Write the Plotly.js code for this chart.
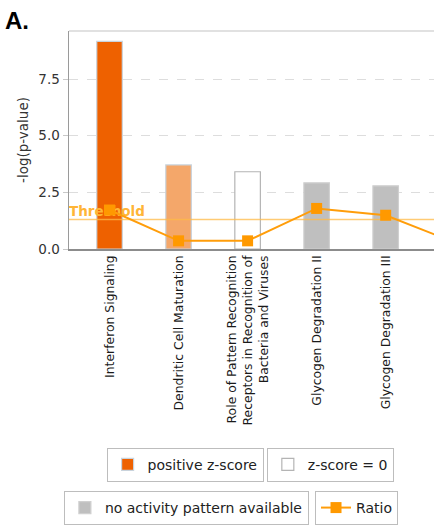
<!DOCTYPE html>
<html>
<head>
<meta charset="utf-8">
<script src="https://cdn.plot.ly/plotly-3.0.1.min.js"></script>
<style>html,body{margin:0;padding:0;background:#fff;}#chart{width:434px;height:526px;}</style>
</head>
<body>
<div id="chart"></div>
<script>
// ---- data ----
var categories = [
  'Interferon Signaling',
  'Dendritic Cell Maturation',
  'Role of Pattern Recognition<br>Receptors in Recognition of<br>Bacteria and Viruses',
  'Glycogen Degradation II',
  'Glycogen Degradation III'
];
var pValues = [9.16, 3.71, 3.41, 2.92, 2.79];          // -log(p-value)
var ratios  = [1.72, 0.36, 0.36, 1.79, 1.49, 0.29];    // last point lies beyond the visible range
var groups  = ['positive z-score', 'positive z-score', 'z-score = 0',
               'no activity pattern available', 'no activity pattern available'];
var threshold = 1.3;
var yTicks = [0, 2.5, 5, 7.5];

// ---- styles ----
var barFill = ['#EE6100', '#F4A76A', '#FFFFFF', '#BFBFBF', '#BFBFBF'];
var barLine = ['#C9D3DC', '#C9D3DC', '#B4B4B4', '#D0D0D0', '#D0D0D0'];
var groupLegend = {
  'positive z-score': 'legend',
  'z-score = 0': 'legend2',
  'no activity pattern available': 'legend3'
};
var groupOrder = ['positive z-score', 'z-score = 0', 'no activity pattern available'];
var xRange = [-0.587, 4.70];
var yRange = [0, 9.62];
var FONT = 'DejaVu Sans, Verdana, sans-serif';

var idx = categories.map(function (_, i) { return i; });
var traces = [];
groupOrder.forEach(function (g) {
  var ii = idx.filter(function (i) { return groups[i] === g; });
  traces.push({
    type: 'bar',
    name: g,
    legend: groupLegend[g],
    x: ii,
    y: ii.map(function (i) { return pValues[i]; }),
    width: 0.37,
    marker: {
      color: ii.map(function (i) { return barFill[i]; }),
      line: { color: ii.map(function (i) { return barLine[i]; }), width: 1.2 }
    },
    hoverinfo: 'x+y'
  });
});

traces.push({
  type: 'scatter',
  mode: 'lines+text',
  x: xRange,
  y: [threshold, threshold],
  text: ['Threshold', ''],
  textposition: 'top right',
  textfont: { family: FONT, size: 13.5, color: '#FFB536', weight: 'bold' },
  line: { color: 'rgba(255,185,70,0.75)', width: 1.5 },
  showlegend: false,
  cliponaxis: false,
  hoverinfo: 'skip'
});

traces.push({
  type: 'scatter',
  mode: 'lines+markers',
  name: 'Ratio',
  legend: 'legend4',
  x: ratios.map(function (_, i) { return i; }),
  y: ratios,
  line: { color: '#FF9D0A', width: 2 },
  marker: { symbol: 'square', size: 11, color: '#FF9900' },
  hoverinfo: 'y'
});

function legendBox(x, y) {
  return {
    x: x, y: y, xanchor: 'left', yanchor: 'top',
    orientation: 'h',
    bgcolor: '#FFFFFF', bordercolor: '#BDBDBD', borderwidth: 1,
    font: { family: FONT, size: 14, color: '#222' }
  };
}

var layout = {
  width: 434, height: 526,
  margin: { l: 69, r: 0, t: 31, b: 273, pad: 0 },
  paper_bgcolor: '#FFFFFF', plot_bgcolor: '#FFFFFF',
  barmode: 'overlay',
  font: { family: FONT, color: '#222' },
  xaxis: {
    range: xRange,
    tickmode: 'array',
    tickvals: idx,
    ticktext: categories,
    tickangle: -90,
    tickfont: { family: FONT, size: 12.4, color: '#1A1A1A' },
    showgrid: false, zeroline: false,
    showline: true, linecolor: '#8C8C8C', linewidth: 1.5,
    ticks: '', fixedrange: true
  },
  yaxis: {
    range: yRange,
    tickmode: 'array',
    tickvals: yTicks,
    tickformat: '.1f',
    tickfont: { family: FONT, size: 13.5, color: '#333' },
    ticks: 'outside', ticklen: 5, tickcolor: '#C8C8C8',
    showgrid: true, gridcolor: '#DDDDDD', griddash: 'dash', gridwidth: 1,
    zeroline: false,
    showline: true, linecolor: '#9A9A9A', linewidth: 1.5,
    title: { text: '-log(p-value)', font: { family: FONT, size: 13.5, color: '#333' }, standoff: 6 },
    fixedrange: true
  },
  showlegend: true,
  legend: legendBox(0.103, -0.912),
  legend2: legendBox(0.542, -0.912),
  legend3: legendBox(-0.014, -1.11),
  legend4: legendBox(0.674, -1.11),
  shapes: [{
    type: 'line', xref: 'paper', yref: 'paper', x0: 0, x1: 1, y0: 1, y1: 1,
    line: { color: '#C4C4C4', width: 1.2 }
  }],
  annotations: [{
    text: '<b>A.</b>', xref: 'paper', yref: 'paper',
    x: -0.18, y: 1.12, xanchor: 'left', yanchor: 'top', showarrow: false,
    font: { family: 'Liberation Sans, Arial, sans-serif', size: 24, color: '#000' }
  }]
};

Plotly.newPlot('chart', traces, layout, { displayModeBar: false, staticPlot: true });
</script>
</body>
</html>
